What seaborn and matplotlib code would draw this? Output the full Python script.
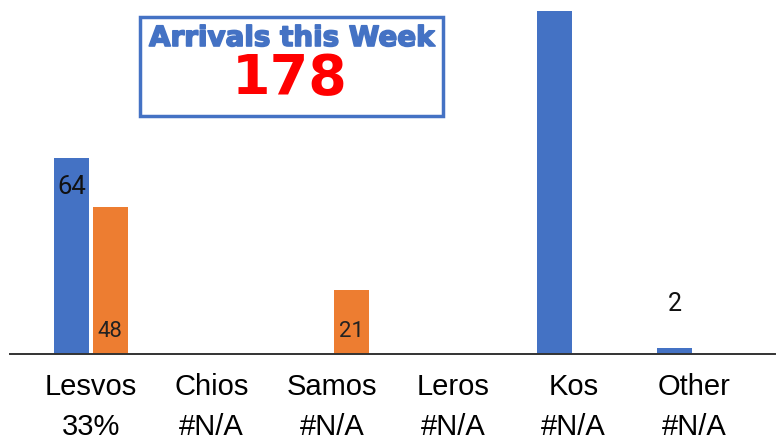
import pandas as pd
import numpy as np
import matplotlib
matplotlib.use("Agg")
import matplotlib.pyplot as plt
import matplotlib.patheffects as pe
import seaborn as sns
from matplotlib.patches import Rectangle

islands = ["Lesvos", "Chios", "Samos", "Leros", "Kos", "Other"]
shares = ["33%", "#N/A", "#N/A", "#N/A", "#N/A", "#N/A"]
this_week = [64, 0, 0, 0, 112, 2]
last_week = [48, 0, 21, 0, 0, 0]
total_this_week = 178

blue = "#4472C4"
orange = "#ED7D31"

df = pd.DataFrame({
    "island": islands * 2,
    "arrivals": this_week + last_week,
    "week": ["This week"] * 6 + ["Last week"] * 6,
})

sns.set_theme(style="white")
plt.rcParams["font.family"] = ["Liberation Sans", "DejaVu Sans"]

fig = plt.figure(figsize=(7.79, 4.44), dpi=100)
ax = fig.add_axes([0.0128, 0.2027, 0.9821, 0.7973])

sns.barplot(
    data=df,
    x="island",
    y="arrivals",
    hue="week",
    palette=[blue, orange],
    saturation=1,
    width=0.64,
    gap=0.1,
    linewidth=0,
    legend=False,
    ax=ax
)

ax.set_xlim(-0.67, 5.67)
ax.set_ylim(0, 115.7)
ax.set_xlabel("")
ax.set_ylabel("")
ax.set_yticks([])

for side in ["top", "left", "right"]:
    ax.spines[side].set_visible(False)
ax.spines["bottom"].set_color("#333333")
ax.spines["bottom"].set_linewidth(1.4)

ax.set_xticks(range(len(islands)))
ax.set_xticklabels(
    [f"{name}\n{share}" for name, share in zip(islands, shares)],
    fontsize=21,
    linespacing=1.52,
    color="black"
)
ax.tick_params(axis="x", length=0, pad=14)

# value labels, placed like the spreadsheet does it
blue_bars = ax.containers[0]
orange_bars = ax.containers[1]
for bar, v in zip(blue_bars, this_week):
    x = bar.get_x() + bar.get_width() / 2
    if v == 0 or v > 100:
        continue
    if v > 20:
        ax.text(x, v - 9.5, str(v), ha="center", va="center", fontsize=18.5,
                color="#111111", family="Roboto")
    else:
        ax.text(x, v + 14.5, str(v), ha="center", va="center", fontsize=18,
                color="#111111", family="Roboto")
for bar, v in zip(orange_bars, last_week):
    if v == 0:
        continue
    x = bar.get_x() + bar.get_width() / 2
    ax.text(x, 7.2, str(v), ha="center", va="center", fontsize=16,
            color="#222222", family="Roboto")

# headline box
box = Rectangle((140 / 779, 1 - 116 / 444), 303 / 779, 99 / 444,
                transform=fig.transFigure, fill=True, facecolor="white",
                edgecolor=blue, linewidth=2.5, zorder=5)
fig.patches.append(box)
fig.text(292 / 779, 1 - 38 / 444, "Arrivals this Week", ha="center", va="center",
         fontsize=20, fontweight="bold", color=blue, family="DejaVu Sans", zorder=6,
         path_effects=[pe.withStroke(linewidth=1.2, foreground=blue)])
fig.text(290 / 779, 1 - 79 / 444, str(total_this_week), ha="center", va="center",
         fontsize=40, fontweight="bold", color="#FF0000", family="DejaVu Sans", zorder=6)

plt.savefig("out.png", dpi=100)
